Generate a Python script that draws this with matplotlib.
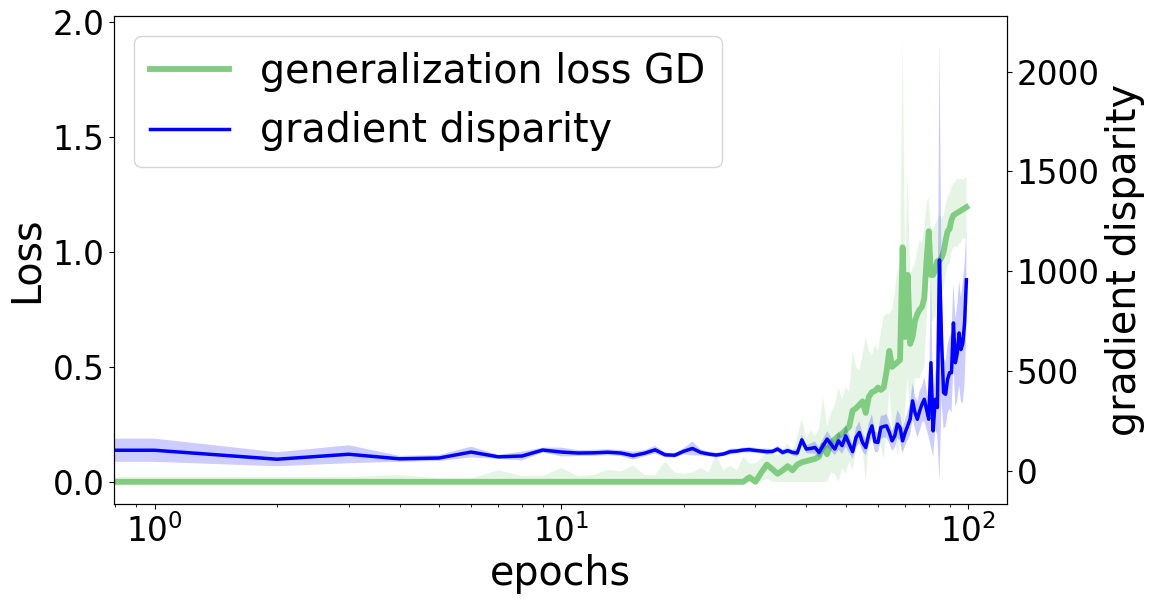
import matplotlib
matplotlib.use("Agg")
import matplotlib.pyplot as plt
import numpy as np

# epochs 0..99 (epoch 0 is clipped by the log axis)
epochs = np.arange(100)

# generalization loss GD (mean and spread over runs)
loss_mean = [0.0] * 29 + [
    0.02, 0.0, 0.04, 0.075, 0.055, 0.035, 0.05, 0.068, 0.05, 0.075, 0.085, 0.09,
    0.095, 0.1, 0.11, 0.16, 0.12, 0.17, 0.185, 0.2, 0.21, 0.225,
    0.24, 0.31, 0.32, 0.335, 0.35, 0.30, 0.37, 0.39, 0.395, 0.41,
    0.40, 0.41, 0.48, 0.57, 0.50, 0.51, 0.52, 0.53, 1.02, 0.63,
    0.90, 0.60, 0.63, 0.70, 0.73, 0.75, 0.76, 0.80, 0.96, 1.09,
    0.90, 0.90, 0.92, 0.96, 0.96, 0.975, 1.0, 1.05, 1.09, 1.10,
    1.14, 1.16, 1.165, 1.17, 1.175, 1.18, 1.185, 1.19, 1.195,
]
loss_std = [
    0.02, 0.02, 0.02, 0.02, 0.03, 0.015, 0.015, 0.05, 0.025, 0.025, 0.06,
    0.025, 0.03, 0.053, 0.045, 0.07, 0.03, 0.03, 0.09, 0.04, 0.035, 0.04,
    0.06, 0.04, 0.12, 0.05, 0.07, 0.05, 0.11, 0.06, 0.08, 0.06,
    0.06, 0.07, 0.08, 0.09, 0.1, 0.08, 0.12, 0.19, 0.1,
    0.13, 0.1, 0.12, 0.21, 0.12, 0.13, 0.15, 0.21, 0.15, 0.19,
    0.15, 0.26, 0.18, 0.15, 0.2, 0.33, 0.2, 0.16, 0.2, 0.16,
    0.25, 0.31, 0.25, 0.16, 0.25, 0.31, 0.41, 0.35, 0.91, 0.3,
    0.45, 0.3, 0.3, 0.25, 0.28, 0.3, 0.28, 0.3, 0.25, 0.15,
    0.2, 0.2, 0.2, 0.18, 0.2, 0.17, 0.16, 0.15, 0.15, 0.15,
    0.14, 0.14, 0.14, 0.15, 0.14, 0.14, 0.13, 0.13, 0.135,
]

# gradient disparity (mean and spread over runs)
gd_mean = [
    105, 105, 60, 85, 62, 66, 96, 72, 76, 106, 96,
    91, 92, 95, 91, 78, 90, 107, 82, 80, 100, 114,
    94, 86, 81, 86, 98, 101, 106, 108, 104, 101,
    98, 99, 111, 94, 103, 94, 91, 157, 111,
    114, 119, 94, 128, 161, 136, 111, 152, 128, 177,
    136, 98, 169, 194, 144, 119, 186, 227, 147, 144,
    219, 224, 227, 194, 152, 177, 236, 219, 152, 194,
    227, 260, 352, 294, 260, 302, 335, 360, 310, 260,
    543, 202, 360, 319, 1057, 659, 393, 385, 460, 493,
    493, 742, 543, 590, 692, 609, 640, 742, 958,
]
gd_std = [
    58, 58, 35, 45, 15, 15, 27, 10, 22, 12, 22,
    15, 15, 15, 15, 20, 15, 20, 12, 12, 15, 35,
    15, 12, 12, 10, 15, 12, 12, 14, 12, 12,
    15, 12, 15, 15, 12, 15, 18, 25, 20,
    25, 30, 25, 35, 40, 35, 30, 45, 40, 55,
    45, 35, 50, 55, 45, 40, 55, 60, 50, 50,
    60, 55, 60, 55, 50, 60, 70, 65, 60, 65,
    70, 80, 90, 80, 90, 100, 90, 110, 100, 90,
    420, 130, 150, 140, 1110, 300, 180, 160, 170, 180,
    200, 200, 220, 240, 260, 260, 300, 300, 250,
]

loss_mean = np.array(loss_mean)
loss_std = np.array(loss_std)
gd_mean = np.array(gd_mean)
gd_std = np.array(gd_std)

green = '#80cc80'

fig, ax1 = plt.subplots(figsize=(11.54, 5.99), dpi=100)
fig.subplots_adjust(left=0.0988, right=0.8726, bottom=0.1586, top=0.9733)
ax2 = ax1.twinx()

# loss on the left axis
l1, = ax1.plot(epochs, loss_mean, color=green, lw=4.2, label='generalization loss GD')
ax1.fill_between(epochs, np.clip(loss_mean - loss_std, 0, None), loss_mean + loss_std,
                 color=green, alpha=0.2, lw=0)

# gradient disparity on the right axis
l2, = ax2.plot(epochs, gd_mean, color='blue', lw=2.5, label='gradient disparity')
ax2.fill_between(epochs, gd_mean - gd_std, gd_mean + gd_std, color='blue', alpha=0.2, lw=0)

ax1.set_xscale('log')
ax1.set_xlabel('epochs', fontsize=28.5)
ax1.set_ylabel('Loss', fontsize=28.5)
ax2.set_ylabel('gradient disparity', fontsize=28.5)
ax1.tick_params(axis='both', labelsize=23.5)
ax2.tick_params(axis='y', labelsize=23.5)

ax2.legend([l1, l2], [l1.get_label(), l2.get_label()], loc='upper left', fontsize=28.5)

fig.savefig('out.png', dpi=100)
